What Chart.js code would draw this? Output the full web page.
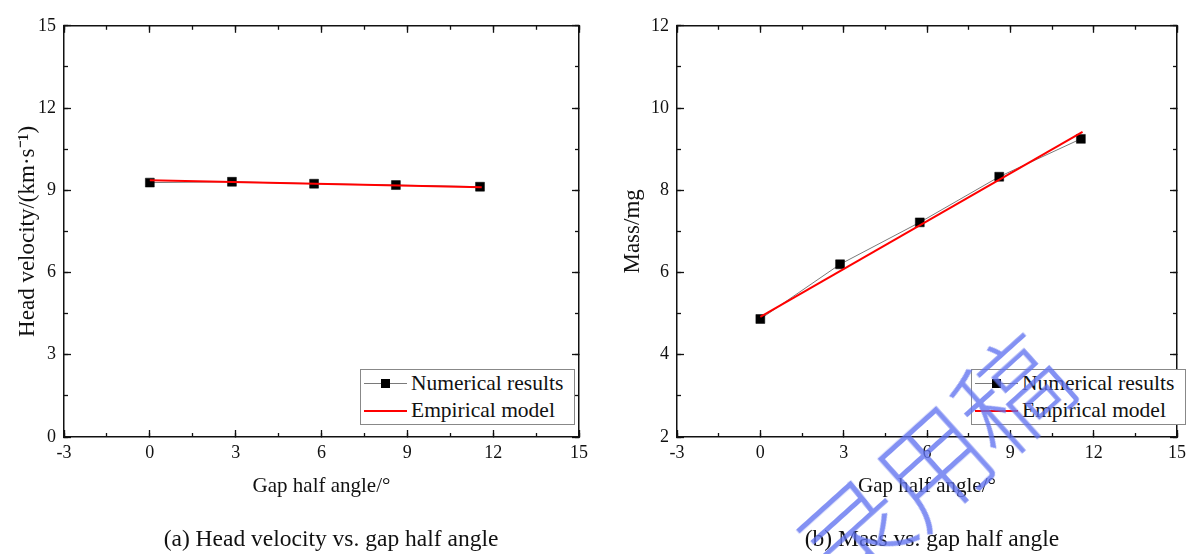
<!DOCTYPE html>
<html>
<head>
<meta charset="utf-8">
<script src="https://cdn.jsdelivr.net/npm/chart.js@4.4.0/dist/chart.umd.min.js"></script>
<style>
  body { margin: 0; background: #fff; }
  #wrap { position: relative; width: 1198px; height: 554px; overflow: hidden; font-family: "Liberation Serif", "Times New Roman", serif; color: #111; }
  .panel { position: absolute; top: 0; height: 554px; }
  #pa { left: 0; width: 613px; }
  #pb { left: 613px; width: 585px; }
  .caption { position: absolute; font-size: 23.5px; white-space: nowrap; transform: translate(-50%, -50%); }
  .legend { position: absolute; top: 369px; width: 213px; height: 54px; border: 1px solid #888; background: #fff; font-size: 21.5px; }
  .legend .row { position: absolute; left: 0; height: 27px; line-height: 27px; white-space: nowrap; }
  .legend .line { position: absolute; left: 3px; width: 43px; top: 13px; }
  .legend .box { position: absolute; left: 20px; top: 9px; width: 9px; height: 9px; background: #000; }
  .legend .txt { position: absolute; left: 50px; top: 0; }
  .mark { position: absolute; font-family: "Noto Sans CJK SC", sans-serif; font-weight: 200; font-size: 110px; color: rgba(96, 114, 240, 0.78); white-space: nowrap; transform: translate(-50%, -50%) rotate(-42deg); pointer-events: none; letter-spacing: -4px; }
</style>
</head>
<body>
<div id="wrap">
  <div class="panel" id="pa"><canvas id="chartA"></canvas></div>
  <div class="panel" id="pb"><canvas id="chartB"></canvas></div>
  <div class="legend" id="legA" style="left:360px"></div>
  <div class="legend" id="legB" style="left:971px"></div>
  <div class="caption" style="left:331px; top:538px">(a) Head velocity vs. gap half angle</div>
  <div class="caption" style="left:932px; top:538px">(b) Mass vs. gap half angle</div>
  <div class="mark" style="left:928px; top:462px">录用稿</div>
</div>
<script>
// gap half angle (deg) of the simulated cases
const angles = [0, 2.87, 5.74, 8.6, 11.54];
// numerical results
const velocityNum = [9.28, 9.31, 9.24, 9.19, 9.13];   // km/s
const massNum = [4.87, 6.2, 7.22, 8.33, 9.25];        // mg
// empirical model (straight line, end points)
const modelAngles = [0, 11.6];
const velocityModel = [9.37, 9.11];
const massModel = [4.92, 9.42];
// axis ranges: [min, max, step]
const xRange = [-3, 15, 3];
const velocityRange = [0, 15, 3];
const massRange = [2, 12, 2];

const INK = '#111';
const tickFont = { family: 'Liberation Serif', size: 18 };

function pts(xs, ys) {
    return xs.map((x, i) => ({ x: x, y: ys[i] }));
}

// one axis side: major ticks (with border) or minor ticks (no border)
function side(pos, range, major, extra) {
    const horiz = pos === 'top' || pos === 'bottom';
    const ax = {
        type: 'linear',
        position: pos,
        min: range[0],
        max: range[1],
        weight: major ? 1 : 0,
        ticks: { stepSize: major ? range[2] : range[2] / 2, display: false, font: tickFont, color: INK },
        grid: { drawOnChartArea: false, drawTicks: true, tickLength: major ? -7 : -4, tickWidth: 1.3, tickColor: INK },
        border: { display: major, color: INK, width: 1.5 },
        afterFit: function(s) { if (horiz) s.height = 0; else s.width = 0; }
    };
    return Object.assign(ax, extra || {});
}

function makeScales(yRange, yTitle, yTitlePad) {
    return {
        x: side('bottom', xRange, true, {
            ticks: { stepSize: xRange[2], font: tickFont, color: INK, padding: 12, maxRotation: 0 },
            title: { display: true, text: 'Gap half angle/°', font: { family: 'Liberation Serif', size: 21 }, color: INK, padding: 0 },
            afterFit: function(s) { s.height = 62; }
        }),
        xm: side('bottom', xRange, false),
        xt: side('top', xRange, true),
        xtm: side('top', xRange, false),
        y: side('left', yRange, true, {
            ticks: { stepSize: yRange[2], font: tickFont, color: INK, padding: 15 },
            title: { display: true, text: yTitle, font: { family: 'Liberation Serif', size: 23 }, color: INK, padding: { top: yTitlePad, bottom: 0 } },
            afterFit: function(s) { s.width = 64; }
        }),
        ym: side('left', yRange, false),
        yr: side('right', yRange, true),
        yrm: side('right', yRange, false)
    };
}

function makeChart(id, numY, modelY, yRange, yTitle, yTitlePad, padRight, legendId) {
    const chart = new Chart(document.getElementById(id), {
        type: 'scatter',
        data: {
            datasets: [{
                label: 'Numerical results',
                data: pts(angles, numY),
                showLine: true,
                borderColor: '#7a7a7a',
                borderWidth: 1,
                pointStyle: 'rect',
                pointRadius: 6.3,
                pointBackgroundColor: '#000',
                pointBorderColor: '#000',
                pointBorderWidth: 0.5,
                order: 1
            }, {
                label: 'Empirical model',
                data: pts(modelAngles, modelY),
                showLine: true,
                borderColor: '#ff0000',
                borderWidth: 2,
                pointRadius: 0,
                order: 0
            }]
        },
        options: {
            responsive: true,
            maintainAspectRatio: false,
            animation: false,
            layout: { padding: { top: 23, bottom: 55, left: 0, right: padRight } },
            plugins: { legend: { display: false }, tooltip: { enabled: false } },
            scales: makeScales(yRange, yTitle, yTitlePad)
        }
    });

    // legend box inside the plot, built from the datasets
    const leg = document.getElementById(legendId);
    chart.data.datasets.forEach((ds, i) => {
        const row = document.createElement('div');
        row.className = 'row';
        row.style.top = (i * 27) + 'px';
        let html = '<div class="line" style="border-top:' + (ds.borderWidth) + 'px solid ' + ds.borderColor + '"></div>';
        if (ds.pointRadius > 0) html += '<div class="box"></div>';
        html += '<div class="txt">' + ds.label + '</div>';
        row.innerHTML = html;
        leg.appendChild(row);
    });
    return chart;
}

makeChart('chartA', velocityNum, velocityModel, velocityRange, 'Head velocity/(km·s⁻¹)', 14, 34, 'legA');
makeChart('chartB', massNum, massModel, massRange, 'Mass/mg', 6, 8, 'legB');
</script>
</body>
</html>
